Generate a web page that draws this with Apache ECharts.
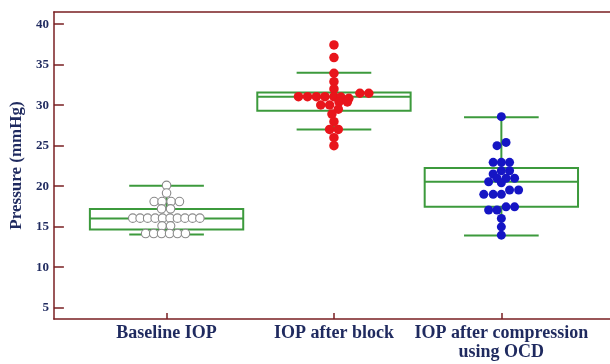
<!DOCTYPE html>
<html>
<head>
<meta charset="utf-8">
<script src="https://cdn.jsdelivr.net/npm/echarts@6/dist/echarts.min.js"></script>
<style>
html,body{margin:0;padding:0;background:#fff;}
#chart{width:610px;height:364px;}
</style>
</head>
<body>
<div id="chart"></div>
<script>
// ---- data ----
const categories = ['Baseline IOP', 'IOP after block', 'IOP after compression\nusing OCD'];
const yTickValues = [5, 10, 15, 20, 25, 30, 35, 40];
const xTickValues = [1, 2, 3];

// box-plot statistics per category
const whiskerLow  = [14.04, 27.0, 13.92];
const quartile1   = [14.66, 29.32, 17.45];
const medianVals  = [16.02, 31.05, 20.54];
const quartile3   = [17.17, 31.55, 22.24];
const whiskerHigh = [20.05, 34.0, 28.5];

// individual observations (values) and their swarm offsets (category units)
const baselineValues = [20.1, 19.15, 18.1, 18.1, 18.1, 18.1, 17.2, 17.2,
  16.05, 16.05, 16.05, 16.05, 16.05, 16.05, 16.05, 16.05, 16.05, 16.05,
  15.1, 15.1, 14.15, 14.15, 14.15, 14.15, 14.15, 14.15];
const baselineOffsets = [0, 0, -0.074, -0.027, 0.027, 0.077, -0.030, 0.024,
  -0.202, -0.158, -0.113, -0.068, -0.024, 0.021, 0.065, 0.110, 0.155, 0.199,
  -0.027, 0.024, -0.125, -0.077, -0.030, 0.018, 0.065, 0.113];

const blockValues = [37.44, 35.87, 33.94, 32.9, 32.0,
  31.05, 31.05, 31.05, 31.05, 31.05,
  31.0, 30.85, 30.4, 30.4, 31.47, 31.47,
  30.02, 30.02, 29.5, 28.9, 27.96, 27.0, 27.0, 25.98, 25.0];
const blockOffsets = [0, 0, 0, 0, 0,
  -0.212, -0.158, -0.105, -0.054, 0,
  0.042, 0.089, 0.030, 0.080, 0.155, 0.208,
  -0.079, -0.026, 0.026, -0.012, 0, -0.026, 0.026, 0, 0];

const ocdValues = [28.58, 25.0, 25.4, 22.94, 22.94, 22.94, 21.9, 21.9, 21.5,
  20.97, 20.97, 20.97, 20.55, 20.42, 19.52, 19.52, 18.99, 18.99, 18.99,
  17.05, 17.05, 17.45, 17.45, 16.02, 14.98, 13.95];
const ocdOffsets = [0, -0.026, 0.028, -0.049, 0, 0.049, 0, 0.049, -0.049,
  -0.026, 0.028, 0.079, -0.076, 0, 0.049, 0.103, -0.105, -0.049, 0,
  -0.076, -0.026, 0.028, 0.079, 0, 0, 0];

// ---- styling ----
const NAVY = '#1f2a5f';
const MAROON = '#7a1f22';
const GREEN = '#3c9a3c';
const SERIF = '"Liberation Serif", "DejaVu Serif", serif';
const BOX_HALF = 0.458;
const CAP_HALF = 0.223;
const X_MIN = 0.327, X_MAX = 3.649;

const boxData = categories.map((c, i) =>
  [i + 1, whiskerLow[i], quartile1[i], medianVals[i], quartile3[i], whiskerHigh[i]]);

function points(values, offsets, center) {
  return values.map((v, i) => [center + offsets[i], v]);
}

const chart = echarts.init(document.getElementById('chart'), null, {renderer: 'canvas'});

chart.setOption({
  backgroundColor: '#ffffff',
  animation: false,
  grid: {left: 52, right: 0, top: 12, bottom: 45, show: false},
  xAxis: [
    {
      type: 'value',
      min: X_MIN, max: X_MAX,
      splitLine: {show: false},
      axisLine: {show: true, lineStyle: {color: MAROON, width: 1.5}},
      axisTick: {show: true, inside: true, length: 6, customValues: xTickValues,
        lineStyle: {color: MAROON, width: 1.5}},
      axisLabel: {
        customValues: xTickValues,
        formatter: v => categories[Math.round(v) - 1] || '',
        color: NAVY, fontFamily: SERIF, fontWeight: 'bold', fontSize: 18,
        lineHeight: 19, margin: 5
      }
    },
    {
      type: 'value', position: 'top',
      min: X_MIN, max: X_MAX,
      splitLine: {show: false},
      axisLine: {show: true, lineStyle: {color: MAROON, width: 1.5}},
      axisTick: {show: false},
      axisLabel: {show: false}
    }
  ],
  yAxis: {
    type: 'value',
    min: 3.6, max: 41.5,
    splitLine: {show: false},
    axisLine: {show: true, lineStyle: {color: MAROON, width: 1.5}},
    axisTick: {show: true, inside: true, length: 10, customValues: yTickValues,
      lineStyle: {color: MAROON, width: 1.5}},
    axisLabel: {
      customValues: yTickValues,
      color: NAVY, fontFamily: SERIF, fontWeight: 'bold', fontSize: 13, margin: 5
    },
    name: 'Pressure (mmHg)',
    nameLocation: 'middle',
    nameGap: 25,
    nameTextStyle: {color: NAVY, fontFamily: SERIF, fontWeight: 'bold', fontSize: 17}
  },
  series: [
    {
      type: 'custom',
      z: 2,
      xAxisIndex: 0,
      data: boxData,
      encode: {x: 0, y: [1, 5]},
      renderItem: function (params, api) {
        const x = api.value(0);
        const lo = api.value(1), q1 = api.value(2), md = api.value(3),
              q3 = api.value(4), hi = api.value(5);
        const tl = api.coord([x - BOX_HALF, q3]);
        const br = api.coord([x + BOX_HALF, q1]);
        const mL = api.coord([x - BOX_HALF, md]);
        const mR = api.coord([x + BOX_HALF, md]);
        const c = api.coord([x, hi]);
        const cLo = api.coord([x, lo]);
        const capL = api.coord([x - CAP_HALF, hi])[0];
        const capR = api.coord([x + CAP_HALF, hi])[0];
        const style = {stroke: GREEN, fill: null, lineWidth: 2};
        return {
          type: 'group',
          children: [
            {type: 'rect', shape: {x: tl[0], y: tl[1], width: br[0] - tl[0], height: br[1] - tl[1]}, style: style},
            {type: 'line', shape: {x1: mL[0], y1: mL[1], x2: mR[0], y2: mR[1]}, style: style},
            {type: 'line', shape: {x1: c[0], y1: c[1], x2: c[0], y2: tl[1]}, style: style},
            {type: 'line', shape: {x1: cLo[0], y1: br[1], x2: cLo[0], y2: cLo[1]}, style: style},
            {type: 'line', shape: {x1: capL, y1: c[1], x2: capR, y2: c[1]}, style: style},
            {type: 'line', shape: {x1: capL, y1: cLo[1], x2: capR, y2: cLo[1]}, style: style}
          ]
        };
      }
    },
    {
      type: 'scatter', z: 3, xAxisIndex: 0,
      data: points(baselineValues, baselineOffsets, 1),
      symbolSize: 8.5,
      itemStyle: {color: '#ffffff', borderColor: '#8a8a8a', borderWidth: 1.1, opacity: 1}
    },
    {
      type: 'scatter', z: 3, xAxisIndex: 0,
      data: points(blockValues, blockOffsets, 2),
      symbolSize: 9.5,
      itemStyle: {color: '#e8151b', opacity: 1}
    },
    {
      type: 'scatter', z: 3, xAxisIndex: 0,
      data: points(ocdValues, ocdOffsets, 3),
      symbolSize: 9,
      itemStyle: {color: '#1515c4', opacity: 1}
    }
  ]
});
</script>
</body>
</html>
